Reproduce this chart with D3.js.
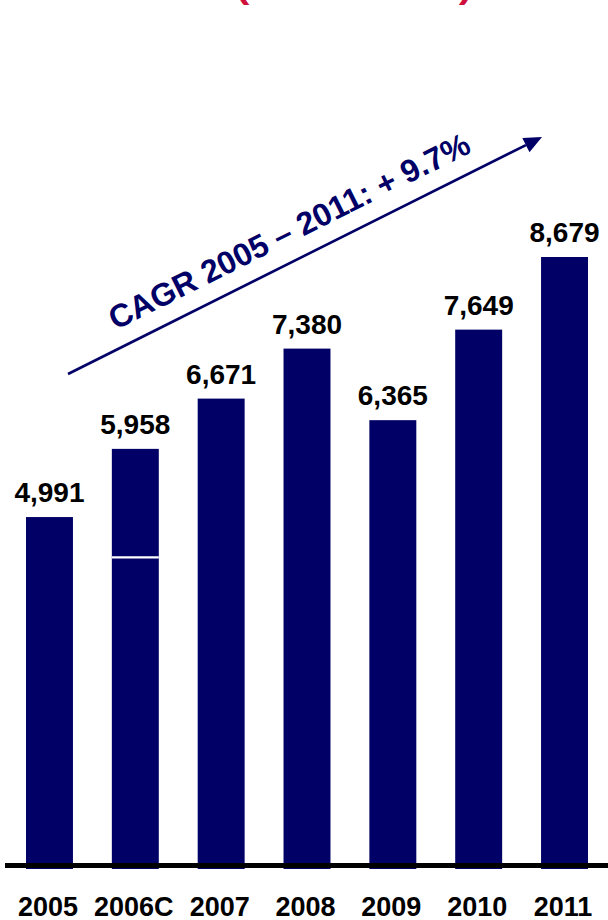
<!DOCTYPE html>
<html>
<head>
<meta charset="utf-8">
<script src="https://cdn.jsdelivr.net/npm/d3@7"></script>
<style>
  html, body { margin: 0; padding: 0; background: #fff; }
  svg { display: block; }
</style>
</head>
<body>
<script>
// ---- data ----
const categories = ["2005", "2006C", "2007", "2008", "2009", "2010", "2011"];
const values = [4991, 5958, 6671, 7380, 6365, 7649, 8679];
const valueLabels = ["4,991", "5,958", "6,671", "7,380", "6,365", "7,649", "8,679"];
// 2006C bar is split into two parts (lower segment)
const splitCategory = "2006C";
const splitLower = 4420;
const cagrText = "CAGR 2005 \u2013 2011: + 9.7%";
const titleText = "(in \u20ac million)";

// ---- layout ----
const W = 608, H = 920;
const navy = "#000066";
const svg = d3.select("body").append("svg").attr("width", W).attr("height", H);

const x = d3.scaleBand().domain(categories).range([26, 588]).paddingInner(0.453).paddingOuter(0);
const y = d3.scaleLinear().domain([0, 8679]).range([869, 257]);

// partially visible red title at the very top
svg.append("text")
  .attr("x", 236).attr("y", -2)
  .attr("textLength", 236).attr("lengthAdjust", "spacingAndGlyphs")
  .attr("font-family", "Liberation Sans, Arial, sans-serif")
  .attr("font-weight", "bold").attr("font-size", 32)
  .attr("fill", "#d0103c")
  .text(titleText);

// bars
const data = categories.map((c, i) => ({c, v: values[i], label: valueLabels[i]}));
svg.append("g").selectAll("rect").data(data).enter().append("rect")
  .attr("x", d => x(d.c)).attr("width", x.bandwidth())
  .attr("y", d => y(d.v)).attr("height", d => y(0) - y(d.v))
  .attr("fill", navy);

// split line on the 2006C bar
svg.append("line")
  .attr("x1", x(splitCategory)).attr("x2", x(splitCategory) + x.bandwidth())
  .attr("y1", y(splitLower)).attr("y2", y(splitLower))
  .attr("stroke", "#fff").attr("stroke-width", 2.2);

// value labels
svg.append("g").selectAll("text").data(data).enter().append("text")
  .attr("x", d => x(d.c) + x.bandwidth() / 2)
  .attr("y", d => y(d.v) - 15)
  .attr("text-anchor", "middle")
  .attr("font-family", "Liberation Sans, Arial, sans-serif")
  .attr("font-weight", "bold").attr("font-size", 28)
  .attr("fill", "#000")
  .text(d => d.label);

// baseline axis
const axis = d3.axisBottom(x).tickSize(0).tickPadding(0);
const gx = svg.append("g").attr("transform", "translate(0,865.5)").call(axis);
gx.select(".domain").remove();
gx.append("line").attr("x1", 5).attr("x2", 608).attr("y1", 0).attr("y2", 0)
  .attr("stroke", "#000").attr("stroke-width", 5);
gx.selectAll(".tick text")
  .attr("x", -1.5)
  .attr("y", 50).attr("dy", 0)
  .attr("font-family", "Liberation Sans, Arial, sans-serif")
  .attr("font-weight", "bold").attr("font-size", 27)
  .attr("fill", "#000");

// CAGR arrow
const a0 = [68, 374], a1 = [542, 137];
const ang = Math.atan2(a1[1] - a0[1], a1[0] - a0[0]);
const headLen = 18, headHalf = 8;
const ux = Math.cos(ang), uy = Math.sin(ang);
const base = [a1[0] - ux * headLen, a1[1] - uy * headLen];
svg.append("line")
  .attr("x1", a0[0]).attr("y1", a0[1]).attr("x2", base[0]).attr("y2", base[1])
  .attr("stroke", navy).attr("stroke-width", 2.6);
svg.append("path")
  .attr("d", d3.line()([a1,
    [base[0] - uy * headHalf, base[1] + ux * headHalf],
    [base[0] + uy * headHalf, base[1] - ux * headHalf]]) + "Z")
  .attr("fill", navy);

// CAGR text
svg.append("text")
  .attr("transform", `translate(294,241) rotate(${ang * 180 / Math.PI})`)
  .attr("text-anchor", "middle")
  .attr("font-family", "Liberation Sans, Arial, sans-serif")
  .attr("font-weight", "bold").attr("font-size", 32)
  .attr("fill", navy)
  .text(cagrText);
</script>
</body>
</html>
